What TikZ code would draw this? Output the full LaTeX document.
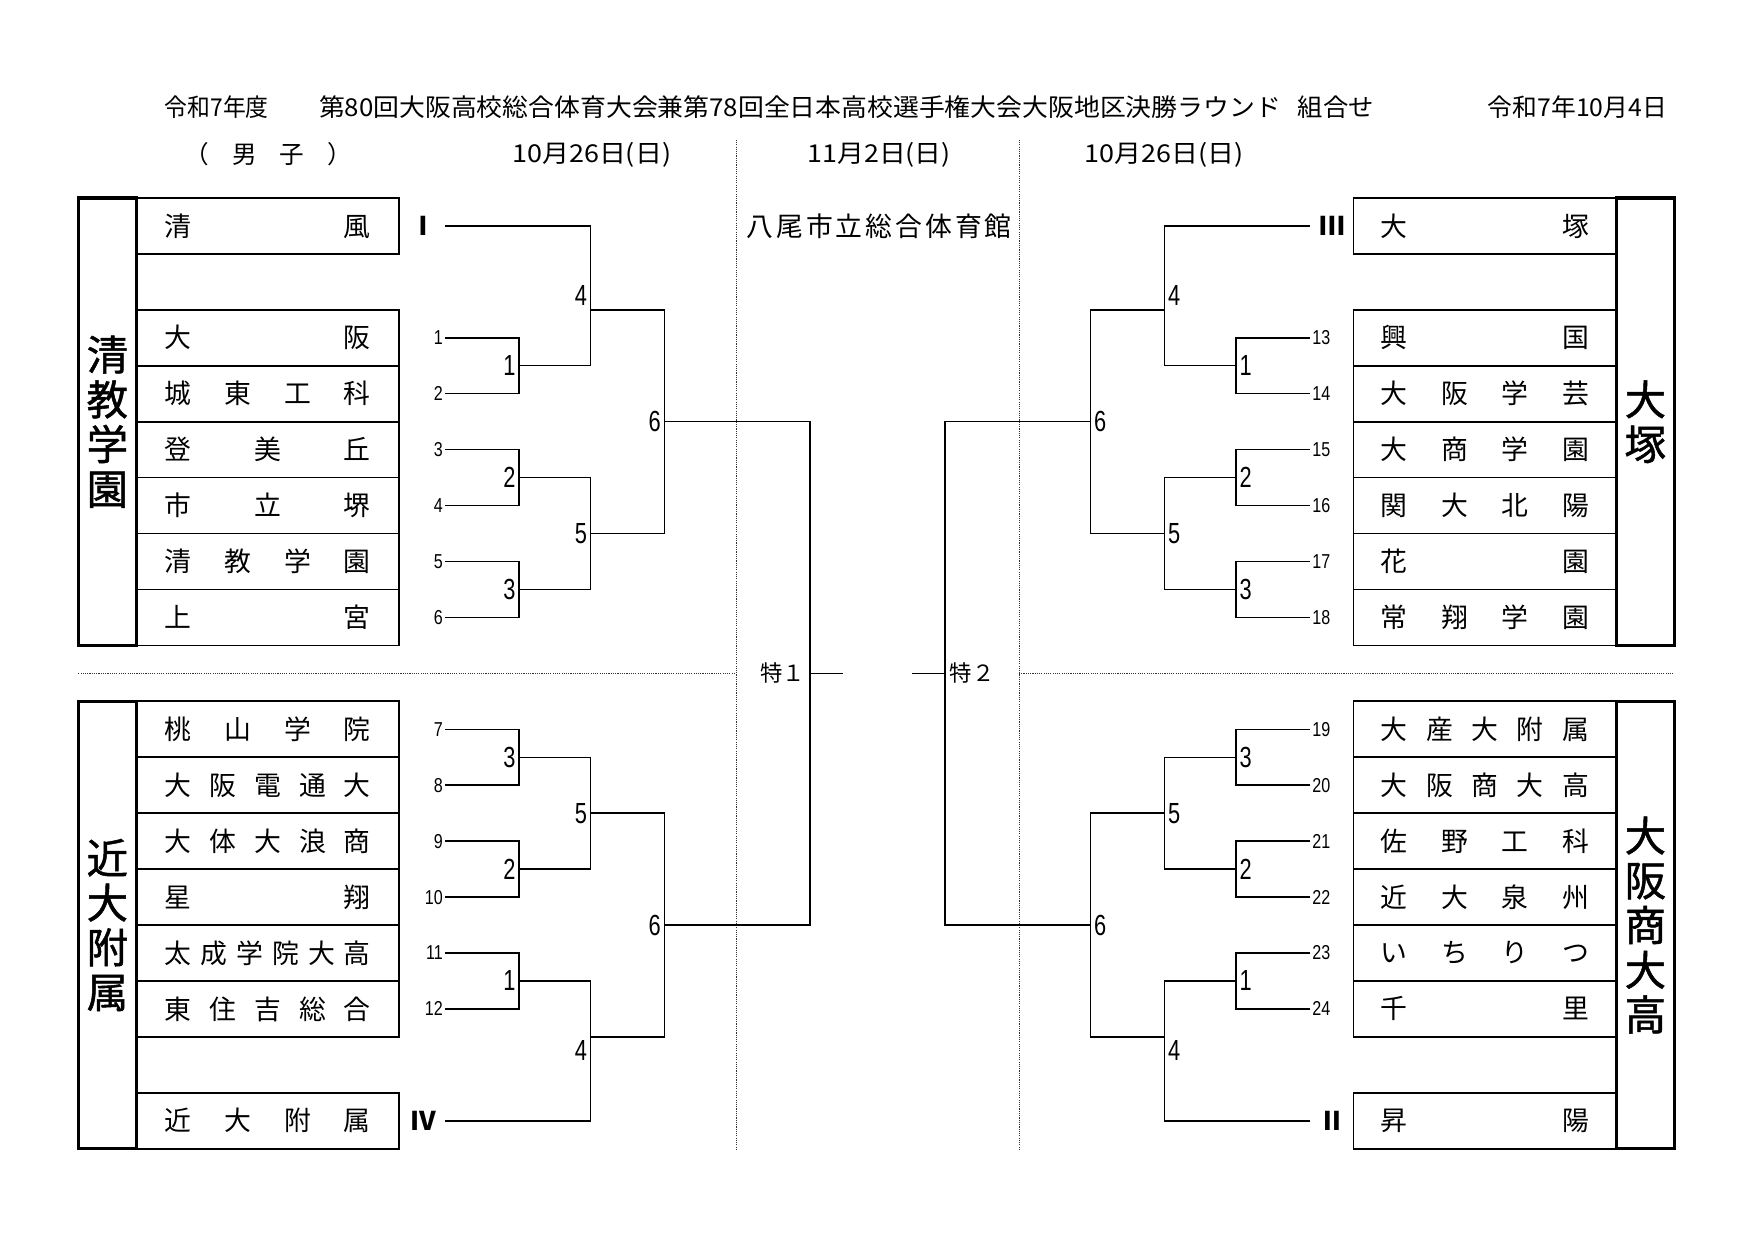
\documentclass[tikz,border=0pt]{standalone}
\usepackage{graphicx}
\usepackage{fontspec}
\setmainfont{Noto Sans CJK JP}
\newfontfamily\numfont{Liberation Sans}
\newfontfamily\cjk{Noto Sans CJK JP}
\newfontfamily\grpfont[FakeBold=1.2]{Noto Sans CJK JP}
\tikzset{
  br/.style={line width=1.3pt},
  dotln/.style={line width=0.9pt, dash pattern=on 1pt off 1pt, black!80},
  teambox/.style={draw, line width=1.5pt, minimum width=235pt, minimum height=50pt, inner sep=0pt, font=\fontsize{24}{24}\selectfont},
  grpbox/.style={draw, line width=3pt, minimum width=52pt, minimum height=400pt, inner sep=0pt, align=center, font=\grpfont\fontsize{37}{40}\selectfont},
  seed/.style={inner sep=0pt, font=\numfont\fontsize{18}{18}\selectfont},
  mlab/.style={inner sep=0pt, font=\numfont\fontsize{26}{26}\selectfont},
  rom/.style={inner sep=0pt, font=\cjk\bfseries\fontsize{23}{23}\selectfont},
  hdr/.style={inner sep=0pt, font=\fontsize{22}{22}\selectfont},
  spc/.style={inner sep=0pt, font=\fontsize{20}{20}\selectfont},
}
\newcommand\fitw[2]{\resizebox{#1}{\height}{#2}}
\newcommand\nar[1]{\scalebox{0.8}[1]{#1}}
\newcommand\narb[1]{\scalebox{0.75}[1]{#1}}
% top group: #1 prefix, #2 dir (-1 left / 1 right), #3 anchor, #4 seed list, #5 roman
\newcommand\topgroup[5]{%
  \pgfmathsetmacro\xa{784.5+(#2)*386.5}%
  \pgfmathsetmacro\xb{784.5+(#2)*320.5}%
  \pgfmathsetmacro\xc{784.5+(#2)*256.5}%
  \pgfmathsetmacro\xd{784.5+(#2)*190.5}%
  \coordinate (#1b) at (\xa,202);
  \foreach \i in {1,...,6}{\coordinate (#1s\i) at (\xa,{252+50*\i});}
  \coordinate (#1m1) at (\xb,327);
  \coordinate (#1m2) at (\xb,427);
  \coordinate (#1m3) at (\xb,527);
  \coordinate (#1m4) at (\xc,277);
  \coordinate (#1m5) at (\xc,477);
  \coordinate (#1m6) at (\xd,377);
  \draw[br] (#1s1) -| (#1m1) |- (#1s2);
  \draw[br] (#1s3) -| (#1m2) |- (#1s4);
  \draw[br] (#1s5) -| (#1m3) |- (#1s6);
  \draw[br] (#1b) -| (#1m4) |- (#1m1);
  \draw[br] (#1m2) -| (#1m5) |- (#1m3);
  \draw[br] (#1m4) -| (#1m6) |- (#1m5);
  \node[rom, anchor=#3] (#1rn) at ({\xa+(#2)*8},202) {#5};
  \foreach \n [count=\i] in {#4}{\node[seed, anchor=#3] (#1n\i) at ({\xa+(#2)*2},{252+50*\i}) {\nar{\n}};}
  \node[mlab, anchor=#3] (#1l1) at ({\xb+(#2)*3},327) {\narb{1}};
  \node[mlab, anchor=#3] (#1l2) at ({\xb+(#2)*3},427) {\narb{2}};
  \node[mlab, anchor=#3] (#1l3) at ({\xb+(#2)*3},527) {\narb{3}};
  \node[mlab, anchor=#3] (#1l4) at ({\xc+(#2)*3},264.5) {\narb{4}};
  \node[mlab, anchor=#3] (#1l5) at ({\xc+(#2)*3},477) {\narb{5}};
  \node[mlab, anchor=#3] (#1l6) at ({\xd+(#2)*3},377) {\narb{6}};
}
\newcommand\botgroup[5]{%
  \pgfmathsetmacro\xa{784.5+(#2)*386.5}%
  \pgfmathsetmacro\xb{784.5+(#2)*320.5}%
  \pgfmathsetmacro\xc{784.5+(#2)*256.5}%
  \pgfmathsetmacro\xd{784.5+(#2)*190.5}%
  \coordinate (#1b) at (\xa,1002);
  \foreach \i in {1,...,6}{\coordinate (#1s\i) at (\xa,{602+50*\i});}
  \coordinate (#1m1) at (\xb,677);
  \coordinate (#1m2) at (\xb,777);
  \coordinate (#1m3) at (\xb,877);
  \coordinate (#1m5) at (\xc,727);
  \coordinate (#1m4) at (\xc,927);
  \coordinate (#1m6) at (\xd,827);
  \draw[br] (#1s1) -| (#1m1) |- (#1s2);
  \draw[br] (#1s3) -| (#1m2) |- (#1s4);
  \draw[br] (#1s5) -| (#1m3) |- (#1s6);
  \draw[br] (#1m1) -| (#1m5) |- (#1m2);
  \draw[br] (#1m3) -| (#1m4) |- (#1b);
  \draw[br] (#1m5) -| (#1m6) |- (#1m4);
  \node[rom, anchor=#3] (#1rn) at ({\xa+(#2)*8},1002) {#5};
  \foreach \n [count=\i] in {#4}{\node[seed, anchor=#3] (#1n\i) at ({\xa+(#2)*2},{602+50*\i}) {\nar{\n}};}
  \node[mlab, anchor=#3] (#1l3) at ({\xb+(#2)*3},677) {\narb{3}};
  \node[mlab, anchor=#3] (#1l2) at ({\xb+(#2)*3},777) {\narb{2}};
  \node[mlab, anchor=#3] (#1l1) at ({\xb+(#2)*3},877) {\narb{1}};
  \node[mlab, anchor=#3] (#1l5) at ({\xc+(#2)*3},727) {\narb{5}};
  \node[mlab, anchor=#3] (#1l4) at ({\xc+(#2)*3},939.5) {\narb{4}};
  \node[mlab, anchor=#3] (#1l6) at ({\xd+(#2)*3},827) {\narb{6}};
}
\begin{document}
\begin{tikzpicture}[x=1pt,y=-1pt]
\useasboundingbox (0,0) rectangle (1569,1109.5);
\fill[white] (0,0) rectangle (1569,1109.5);

% header
\node[hdr, anchor=west] (h1) at (147,96) {\fitw{93pt}{令和7年度}};
\node[hdr, anchor=west] (h2) at (285,96) {\fitw{860pt}{第80回大阪高校総合体育大会兼第78回全日本高校選手権大会大阪地区決勝ラウンド}};
\node[hdr, anchor=west] (h3) at (1160,96) {\fitw{68pt}{組合せ}};
\node[hdr, anchor=west] (h4) at (1330,96) {\fitw{160pt}{令和7年10月4日}};
\node[hdr] (sex) at (240,138) {\makebox[150pt]{（\hfill 男\hfill 子\hfill ）}};
\node[hdr] (d1) at (529,138) {\fitw{142pt}{10月26日(日)}};
\node[hdr] (d2) at (786,138) {\fitw{128pt}{11月2日(日)}};
\node[hdr] (d3) at (1041,138) {\fitw{142pt}{10月26日(日)}};
\node[inner sep=0pt, font=\fontsize{24}{24}\selectfont] (venue) at (786,202) {\makebox[237pt]{八\hfill 尾\hfill 市\hfill 立\hfill 総\hfill 合\hfill 体\hfill 育\hfill 館}};

% dotted separators
\draw[dotln] (658,125) -- (658,1028);
\draw[dotln] (911,125) -- (911,1028);
\draw[dotln] (70,602) -- (658,602);
\draw[dotln] (911,602) -- (1497,602);

% group label boxes
\node[grpbox] (gLT) at (96,377) {清\\教\\学\\園};
\node[grpbox] (gLB) at (96,827) {近\\大\\附\\属};
\node[grpbox] (gRT) at (1471,377) {大\\塚};
\node[grpbox] (gRB) at (1471,827) {大\\阪\\商\\大\\高};

% left team boxes
\node[teambox] (t01) at (239.5,202) {\makebox[184pt]{清\hfill 風}};
\node[teambox] (t02) at (239.5,302) {\makebox[184pt]{大\hfill 阪}};
\node[teambox] (t03) at (239.5,352) {\makebox[184pt]{城\hfill 東\hfill 工\hfill 科}};
\node[teambox] (t04) at (239.5,402) {\makebox[184pt]{登\hfill 美\hfill 丘}};
\node[teambox] (t05) at (239.5,452) {\makebox[184pt]{市\hfill 立\hfill 堺}};
\node[teambox] (t06) at (239.5,502) {\makebox[184pt]{清\hfill 教\hfill 学\hfill 園}};
\node[teambox] (t07) at (239.5,552) {\makebox[184pt]{上\hfill 宮}};
\node[teambox] (t08) at (239.5,652) {\makebox[184pt]{桃\hfill 山\hfill 学\hfill 院}};
\node[teambox] (t09) at (239.5,702) {\makebox[184pt]{大\hfill 阪\hfill 電\hfill 通\hfill 大}};
\node[teambox] (t10) at (239.5,752) {\makebox[184pt]{大\hfill 体\hfill 大\hfill 浪\hfill 商}};
\node[teambox] (t11) at (239.5,802) {\makebox[184pt]{星\hfill 翔}};
\node[teambox] (t12) at (239.5,852) {\makebox[184pt]{太\hfill 成\hfill 学\hfill 院\hfill 大\hfill 高}};
\node[teambox] (t13) at (239.5,902) {\makebox[184pt]{東\hfill 住\hfill 吉\hfill 総\hfill 合}};
\node[teambox] (t14) at (239.5,1002) {\makebox[184pt]{近\hfill 大\hfill 附\hfill 属}};

% right team boxes
\node[teambox] (u01) at (1327.5,202) {\makebox[186pt]{大\hfill 塚}};
\node[teambox] (u02) at (1327.5,302) {\makebox[186pt]{興\hfill 国}};
\node[teambox] (u03) at (1327.5,352) {\makebox[186pt]{大\hfill 阪\hfill 学\hfill 芸}};
\node[teambox] (u04) at (1327.5,402) {\makebox[186pt]{大\hfill 商\hfill 学\hfill 園}};
\node[teambox] (u05) at (1327.5,452) {\makebox[186pt]{関\hfill 大\hfill 北\hfill 陽}};
\node[teambox] (u06) at (1327.5,502) {\makebox[186pt]{花\hfill 園}};
\node[teambox] (u07) at (1327.5,552) {\makebox[186pt]{常\hfill 翔\hfill 学\hfill 園}};
\node[teambox] (u08) at (1327.5,652) {\makebox[186pt]{大\hfill 産\hfill 大\hfill 附\hfill 属}};
\node[teambox] (u09) at (1327.5,702) {\makebox[186pt]{大\hfill 阪\hfill 商\hfill 大\hfill 高}};
\node[teambox] (u10) at (1327.5,752) {\makebox[186pt]{佐\hfill 野\hfill 工\hfill 科}};
\node[teambox] (u11) at (1327.5,802) {\makebox[186pt]{近\hfill 大\hfill 泉\hfill 州}};
\node[teambox] (u12) at (1327.5,852) {\makebox[186pt]{い\hfill ち\hfill り\hfill つ}};
\node[teambox] (u13) at (1327.5,902) {\makebox[186pt]{千\hfill 里}};
\node[teambox] (u14) at (1327.5,1002) {\makebox[186pt]{昇\hfill 陽}};

% brackets
\topgroup{LT}{-1}{east}{1,2,3,4,5,6}{Ⅰ}
\botgroup{LB}{-1}{east}{7,8,9,10,11,12}{Ⅳ}
\topgroup{RT}{1}{west}{13,14,15,16,17,18}{Ⅲ}
\botgroup{RB}{1}{west}{19,20,21,22,23,24}{Ⅱ}

% finals
\coordinate (F1) at (724,602);
\coordinate (F1s) at (754,602);
\coordinate (F2) at (845,602);
\coordinate (F2s) at (815,602);
\draw[br] (LTm6) -| (F1) |- (LBm6);
\draw[br] (RTm6) -| (F2) |- (RBm6);
\draw[br] (F1) -- (F1s);
\draw[br] (F2) -- (F2s);
\node[spc, anchor=east] (sp1) at (720,602) {特１};
\node[spc, anchor=west] (sp2) at (849,602) {特２};
\end{tikzpicture}
\end{document}
